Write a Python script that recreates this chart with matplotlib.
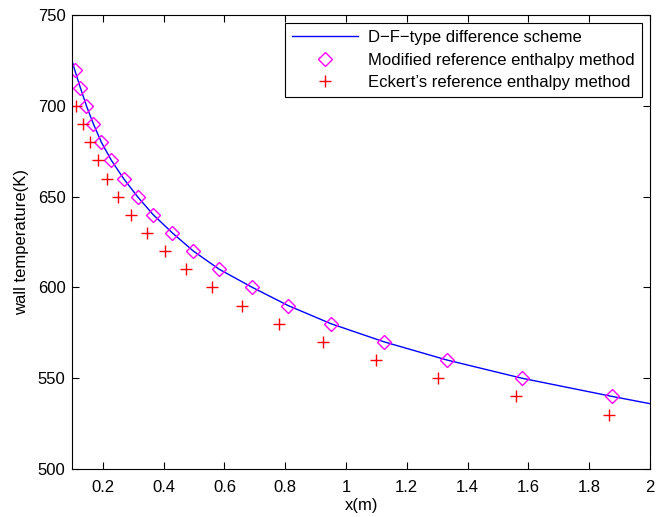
import matplotlib
matplotlib.use('Agg')
import matplotlib.pyplot as plt

plt.rcParams['font.family'] = ['Liberation Sans', 'DejaVu Sans']
plt.rcParams['font.size'] = 12

# D-F-type difference scheme
line_x = [0.1, 0.107, 0.126, 0.146, 0.169, 0.195, 0.228, 0.268, 0.314, 0.366, 0.429,
          0.498, 0.583, 0.692, 0.810, 0.951, 1.126, 1.333, 1.579, 1.875, 2.0]
line_y = [724, 720, 710, 700, 690, 680, 670, 660, 650, 640, 630,
          620, 610, 600, 590, 580, 570, 560, 550, 540, 536]

# modified reference enthalpy method
mod_x = [0.107, 0.126, 0.146, 0.169, 0.195, 0.228, 0.268, 0.314, 0.366, 0.429,
         0.498, 0.583, 0.692, 0.810, 0.951, 1.126, 1.333, 1.579, 1.875]
mod_y = [720, 710, 700, 690, 680, 670, 660, 650, 640, 630,
         620, 610, 600, 590, 580, 570, 560, 550, 540]

# Eckert's reference enthalpy method
eck_x = [0.110, 0.134, 0.157, 0.183, 0.213, 0.250, 0.292, 0.344, 0.406, 0.475,
         0.560, 0.659, 0.780, 0.925, 1.099, 1.303, 1.560, 1.865]
eck_y = [700, 690, 680, 670, 660, 650, 640, 630, 620, 610,
         600, 590, 580, 570, 560, 550, 540, 530]

fig = plt.figure(figsize=(6.6, 5.17), dpi=100)
ax = fig.add_axes([0.1098, 0.0928, 0.875, 0.878])

ax.plot(line_x, line_y, color='blue', lw=1, label='D\u2212F\u2212type difference scheme')
ax.plot(mod_x, mod_y, 'D', mfc='none', mec='#ff00ff', ms=7.5, mew=1,
        label='Modified reference enthalpy method')
ax.plot(eck_x, eck_y, '+', color='red', ms=9, mew=1,
        label='Eckert\u2019s reference enthalpy method')

ax.set_xlim(0.1, 2)
ax.set_ylim(500, 750)
ax.set_xticks([0.2, 0.4, 0.6, 0.8, 1, 1.2, 1.4, 1.6, 1.8, 2])
ax.set_xticklabels(['0.2', '0.4', '0.6', '0.8', '1', '1.2', '1.4', '1.6', '1.8', '2'])
ax.set_yticks([500, 550, 600, 650, 700, 750])
ax.tick_params(direction='in', top=True, right=True, length=5, width=0.8, pad=5)
ax.tick_params(axis='x', pad=8)
ax.set_xlabel('x(m)', labelpad=2)
ax.set_ylabel('wall temperature(K)', labelpad=6)

leg = ax.legend(loc='upper right', fancybox=False, edgecolor='black',
                framealpha=1, handlelength=4.0, borderaxespad=0.5,
                labelspacing=0.45, handletextpad=0.6, borderpad=0.4)
leg.get_frame().set_linewidth(0.8)

fig.savefig('out.png', dpi=100)
